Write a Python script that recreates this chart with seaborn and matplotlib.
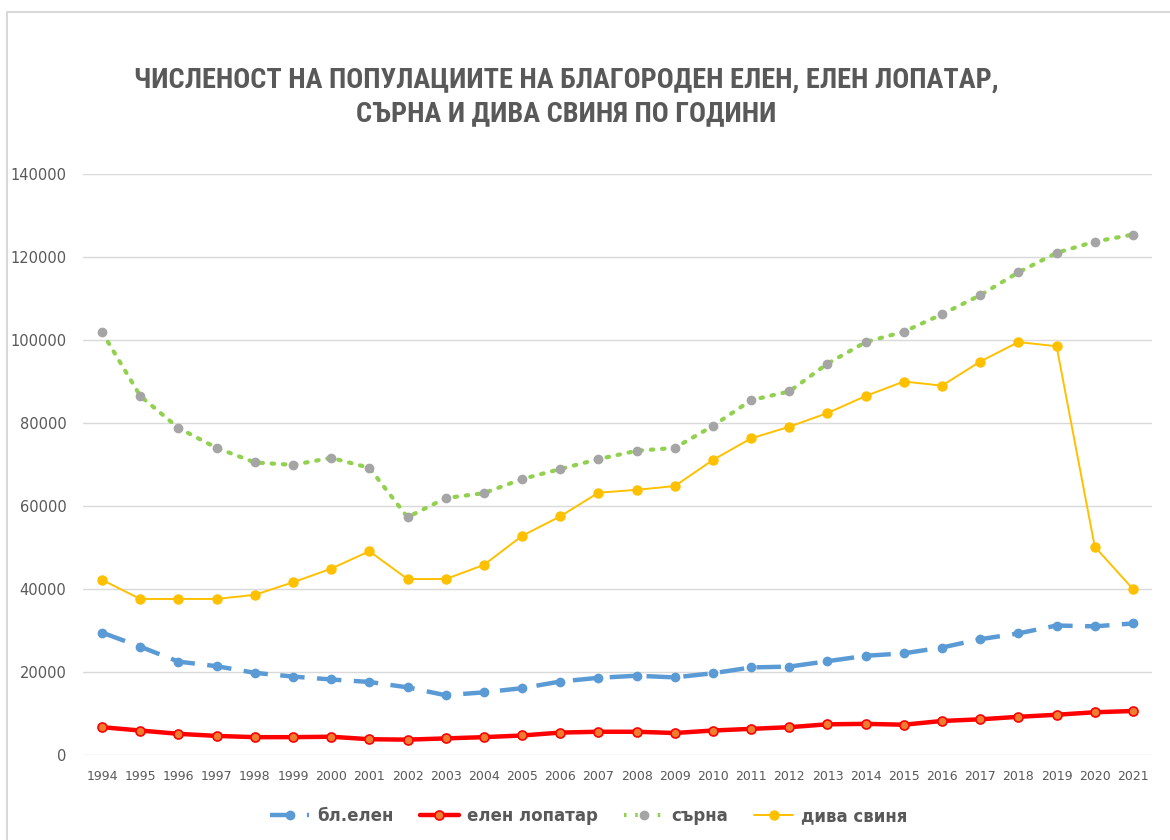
import numpy as np
import pandas as pd
import matplotlib
matplotlib.use("Agg")
import matplotlib.pyplot as plt
import seaborn as sns
from matplotlib.lines import Line2D

years = list(range(1994, 2022))
bl_elen = [29500, 26100, 22500, 21400, 19800, 18900, 18200, 17600, 16300, 14400,
           15100, 16100, 17700, 18600, 19100, 18700, 19700, 21100, 21300, 22600,
           23900, 24500, 25900, 27900, 29300, 31200, 31000, 31700]
elen_lopatar = [6700, 5900, 5100, 4600, 4300, 4300, 4400, 3800, 3700, 4000,
                4300, 4700, 5400, 5600, 5600, 5300, 5900, 6300, 6700, 7400,
                7500, 7300, 8200, 8600, 9200, 9700, 10300, 10600]
sarna = [101900, 86500, 78800, 74000, 70500, 69900, 71600, 69200, 57300, 61900,
         63100, 66500, 68900, 71300, 73300, 74000, 79300, 85500, 87600, 94300,
         99500, 102000, 106200, 110800, 116300, 121000, 123700, 125400]
diva_svinya = [42200, 37600, 37600, 37600, 38600, 41600, 44900, 49100, 42400, 42400,
               45800, 52800, 57500, 63200, 63900, 64800, 71100, 76300, 79100, 82400,
               86500, 90000, 89000, 94800, 99500, 98500, 50200, 40000]
series_names = ["бл.елен", "елен лопатар", "сърна", "дива свиня"]
title_text = "ЧИСЛЕНОСТ НА ПОПУЛАЦИИТЕ НА БЛАГОРОДЕН ЕЛЕН, ЕЛЕН ЛОПАТАР,\nСЪРНА И ДИВА СВИНЯ ПО ГОДИНИ"

df = pd.DataFrame({"year": years * 4,
                   "value": bl_elen + elen_lopatar + sarna + diva_svinya,
                   "series": sum([[n] * len(years) for n in series_names], [])})

sns.set_theme(style="white")
plt.rcParams["font.family"] = ["DejaVu Sans"]

fig = plt.figure(figsize=(11.7, 8.4), dpi=100)
ax = fig.add_axes([83 / 1170, 1 - 755 / 840, (1152 - 83) / 1170, (755 - 174) / 840])

styles = {
    "бл.елен": dict(color="#5B9BD5", lw=3.2, ls=(0, (5.5, 2.8)), marker="o", ms=6,
                    mfc="#5B9BD5", mec="#5B9BD5", dash_capstyle="butt"),
    "елен лопатар": dict(color="#FF0000", lw=3.2, ls="-", marker="o", ms=6.5,
                         mfc="#ED7D31", mec="#FF0000", mew=1.2),
    "сърна": dict(color="#92D050", lw=3.0, ls=(0, (0.6, 2.1)), marker="o", ms=6,
                  mfc="#A5A5A5", mec="#A5A5A5", dash_capstyle="round"),
    "дива свиня": dict(color="#FFC000", lw=1.4, ls="-", marker="o", ms=6.5,
                       mfc="#FFC000", mec="#FFC000"),
}

for name in series_names:
    st = styles[name]
    sub = df[df["series"] == name]
    sns.lineplot(data=sub, x="year", y="value", ax=ax, sort=False, color=st["color"],
                 linewidth=st["lw"], linestyle=st["ls"] if isinstance(st["ls"], str) else "-",
                 marker=st["marker"], markersize=st["ms"], markerfacecolor=st["mfc"],
                 markeredgecolor=st["mec"], markeredgewidth=st.get("mew", 1.0),
                 legend=False, zorder=3)
    line = ax.get_lines()[-1]
    line.set_linestyle(st["ls"])
    if "dash_capstyle" in st:
        line.set_dash_capstyle(st["dash_capstyle"])

ax.set_xlim(1993.5, 2021.5)
ax.set_ylim(0, 140000)
ax.set_yticks(np.arange(0, 140001, 20000))
ax.set_yticklabels([str(v) for v in range(0, 140001, 20000)])
ax.set_xticks(years)
ax.set_xticklabels([str(y) for y in years])
ax.tick_params(axis="y", labelsize=10.5, colors="#595959", length=0, pad=12)
ax.tick_params(axis="x", labelsize=9, colors="#595959", length=0, pad=11)
ax.grid(axis="y", color="#D9D9D9", lw=1.0, zorder=0)
ax.set_axisbelow(True)
for s in ax.spines.values():
    s.set_visible(False)
ax.set_xlabel("")
ax.set_ylabel("")

fig.text(566 / 1170, 1 - 97 / 840, title_text, ha="center", va="center",
         fontsize=20.3, fontweight="bold", color="#595959", fontstretch="condensed",
         family=["Roboto Condensed", "Open Sans Condensed", "DejaVu Sans Condensed", "DejaVu Sans"],
         linespacing=1.33)

handles = []
for name in series_names:
    st = styles[name]
    handles.append(Line2D([0], [0], color=st["color"], lw=st["lw"], ls=st["ls"],
                          marker=st["marker"], ms=st["ms"], mfc=st["mfc"], mec=st["mec"],
                          mew=st.get("mew", 1.0)))
leg = fig.legend(handles, series_names, loc="center", bbox_to_anchor=(589 / 1170, 1 - 816 / 840),
                 ncol=4, frameon=False, handlelength=2.3, columnspacing=1.6, handletextpad=0.5,
                 prop=dict(size=12, weight="bold"))
for t in leg.get_texts():
    t.set_color("#595959")

# chart border (left and top)
fig.add_artist(Line2D([7 / 1170, 7 / 1170], [0, 1 - 12 / 840], color="#D9D9D9", lw=1.5,
                      transform=fig.transFigure))
fig.add_artist(Line2D([7 / 1170, 1], [1 - 12 / 840, 1 - 12 / 840], color="#D9D9D9", lw=1.5,
                      transform=fig.transFigure))

fig.savefig("out.png", dpi=100)
